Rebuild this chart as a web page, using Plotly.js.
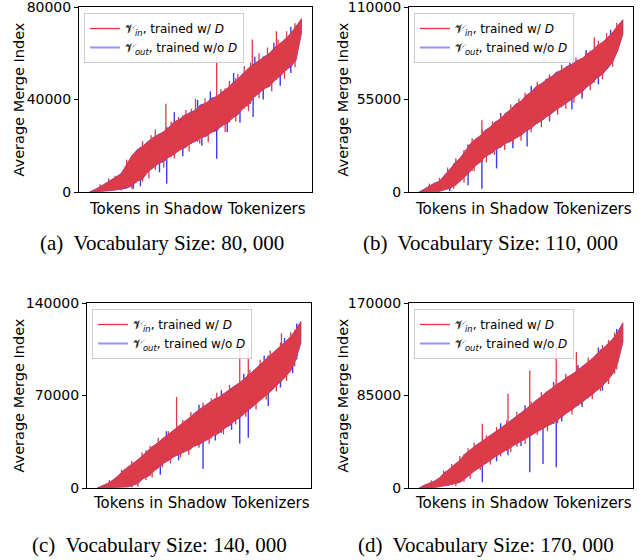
<!DOCTYPE html>
<html>
<head>
<meta charset="utf-8">
<script src="https://cdn.plot.ly/plotly-3.0.1.min.js"></script>
<style>html,body{margin:0;padding:0;background:#fff}#chart{width:644px;height:560px}</style>
</head>
<body>
<div id="chart"></div>
<script>
// ---------- DATA ----------
const captions = ["(a)  Vocabulary Size: 80, 000", "(b)  Vocabulary Size: 110, 000",
                  "(c)  Vocabulary Size: 140, 000", "(d)  Vocabulary Size: 170, 000"];
const yMax = [80000, 110000, 140000, 170000];
const yTicks = [[0, 40000, 80000], [0, 55000, 110000], [0, 70000, 140000], [0, 85000, 170000]];
const xTitle = "Tokens in Shadow Tokenizers";
const yTitle = "Average Merge Index";
const inName = "𝒱<sub><i>in</i></sub>, trained w/ <i>D</i>";
const outName = "𝒱<sub><i>out</i></sub>, trained w/o <i>D</i>";

// (a) 80,000 : envelopes of the two noisy series
const a_inHi  = [0,1000,2200,3800,5000,6600,7800,12000,15800,18000,19800,21500,23600,24500,26200,27800,30500,31200,33400,34000,35600,37400,38600,40200,41500,42800,44900,46800,49200,51000,53600,55000,57000,58200,60200,62300,64400,66000,68700,71500,75000];
const a_inLo  = [0,150,300,500,700,1000,1400,2000,2900,4500,6000,8500,10800,12000,13500,15000,16500,18200,19400,20800,22200,23300,24300,25600,26800,28500,30000,31800,33800,36000,38000,40800,43000,44500,46000,48500,50300,52500,54500,57000,69000];
const a_outHi = [0,1000,2400,3600,5200,6400,8200,11800,15500,18400,19500,21800,23300,25000,26000,28200,30200,31600,33100,34500,35300,37800,38300,40600,41200,43300,44600,47200,48900,51400,53300,55400,56700,58600,59900,62700,64100,66400,68400,71800,74700];
const a_outLo = [0,100,200,400,600,800,1200,1600,2600,4800,5600,8800,10400,12300,13100,15400,16200,18600,19000,21200,21800,23700,24000,26000,26400,28900,29700,32200,33400,36400,37600,41200,42600,44900,45600,48900,49900,52900,54100,57400,68600];
// single-token excursions: position and tip value
const a_inUpX  = [0.36,0.60,0.768,0.882,0.50,0.12,0.25,0.31,0.42,0.455,0.545,0.66,0.70,0.73,0.80,0.84,0.93,0.97,0.05,0.09,0.175,0.29,0.385,0.48,0.62,0.76,0.89];
const a_inUpY  = [38200,58400,65900,69500,40300,7000,22000,27000,32500,35500,40500,48000,51000,54500,60000,62500,69500,73000,3300,6000,14000,24500,30500,36000,44500,56000,66000];
const a_inDnX  = [0.20,0.28,0.35,0.47,0.56,0.64,0.75,0.86,0.92,0.15,0.25,0.31,0.40,0.52,0.69,0.80,0.97];
const a_inDnY  = [1200,6000,10500,17500,21500,26000,35000,43500,49000,600,4500,9500,14500,21000,30500,40500,54000];
const a_outUpX = [0.40,0.51,0.57,0.68,0.78,0.87,0.95];
const a_outUpY = [34500,39800,43500,51500,58500,64500,71500];
const a_outDnX = [0.364,0.60,0.772,0.207,0.53,0.71,0.24,0.33,0.44,0.65,0.82,0.90,0.95];
const a_outDnY = [3600,14400,32400,1400,20000,30000,2500,8500,15500,26000,40000,46000,51500];

// (b) 110,000
const b_inHi  = [0,1500,3500,5000,6500,9800,13500,17000,20200,23500,28500,31000,33500,36500,38800,41500,43500,46500,49300,52000,54000,57200,59500,62500,64500,66500,68800,71000,72600,74300,76000,77800,79500,81800,84200,86800,89000,91500,95000,98500,102500];
const b_inLo  = [0,100,250,350,500,1200,2300,3800,6500,9000,12500,15500,18000,21000,23000,25000,27000,28800,30500,32000,34000,36000,38200,40500,42500,44500,47000,49000,51200,53000,55500,57500,59800,62500,65000,68000,70300,73500,77500,84000,94000];
const b_outHi = [0,1700,3300,5300,6300,10200,13300,17400,20000,23900,28300,31400,33300,36900,38600,41900,43300,46900,49100,52400,53800,57600,59300,62900,64300,66900,68600,71400,72400,74700,75800,78200,79300,82200,84000,87200,88800,91900,94800,98900,102300];
const b_outLo = [0,50,150,400,400,1400,2100,4000,6200,9300,12100,15800,17600,21300,22600,25300,26600,29100,30100,32300,33600,36300,37800,40800,42100,44800,46600,49300,50800,53300,55100,57800,59400,62800,64600,68300,69900,73800,77100,84300,93600];
const b_inUpX  = [0.308,0.62,0.86,0.10,0.18,0.26,0.36,0.45,0.52,0.58,0.70,0.77,0.92,0.97,0.05,0.14,0.22,0.31,0.40,0.49,0.64,0.82,0.88];
const b_inUpY  = [42600,66000,92000,8500,20000,32000,42000,52000,59000,65500,75500,80000,94500,100500,5000,14500,25000,37000,45500,55500,70000,83500,90000];
const b_inDnX  = [0.22,0.33,0.42,0.50,0.60,0.68,0.76,0.84,0.90,0.17,0.27,0.37,0.46,0.55,0.64,0.72,0.80,0.95];
const b_inDnY  = [5500,17500,25000,30500,38500,46000,53000,60500,67000,2000,12500,22000,28500,35500,43000,49500,57000,74500];
const b_outUpX = [0.624,0.40,0.55,0.74,0.82,0.94];
const b_outUpY = [67400,47000,63000,78500,84500,96500];
const b_outDnX = [0.308,0.24,0.38,0.53,0.75,0.46,0.64,0.80,0.88,0.15];
const b_outDnY = [2000,4000,14000,27000,49000,26000,42000,55500,64000,500];

// (c) 140,000
const c_inHi  = [0,1500,3500,5500,9000,12500,15800,18500,21500,24500,28500,31500,34500,37500,40500,43500,46800,49500,52500,56000,59200,62000,64500,67000,69000,71500,74500,77000,79800,83000,86500,89500,93500,97000,100500,103500,107000,110500,114500,119500,126000];
const c_inLo  = [0,100,200,300,500,700,900,2000,3500,7000,9000,12500,15500,18500,21000,23500,25500,27000,29000,31500,33000,35000,37500,40000,42000,45000,47500,50500,53500,56500,60000,63000,66500,69500,73000,76500,80500,84000,89000,97000,110000];
const c_outHi = [0,1700,3300,5800,8800,12800,15600,18800,21300,24800,28300,31800,34300,37800,40300,43800,46600,49800,52300,56300,59000,62300,64300,67300,68800,71800,74300,77300,79600,83300,86300,89800,93300,97300,100300,103800,106800,110800,114300,119800,125800];
const c_outLo = [0,50,150,350,450,750,850,2100,3300,7300,8700,12800,15200,18800,20700,23800,25200,27300,28700,31800,32700,35300,37200,40300,41700,45300,47200,50800,53200,56800,59700,63300,66200,69800,72700,76800,80200,84300,88700,97300,109600];
const c_inUpX  = [0.39,0.70,0.742,0.905,0.587,0.12,0.22,0.30,0.46,0.52,0.65,0.80,0.85,0.95,0.06,0.17,0.26,0.35,0.42,0.56,0.75,0.90];
const c_inUpY  = [68900,108000,105500,117000,72000,14000,27000,38000,57500,64500,78000,97000,104000,118000,6000,20500,32000,43000,51500,68000,89500,110000];
const c_inDnX  = [0.20,0.27,0.36,0.45,0.55,0.62,0.78,0.88,0.93,0.24,0.32,0.41,0.50,0.68,0.73,0.83,0.97];
const c_inDnY  = [1000,8000,18500,25000,33500,40500,59500,73000,81000,6000,15500,23000,30500,48000,54000,67000,92000];
const c_outUpX = [0.34,0.50,0.61,0.72,0.82,0.92,0.98];
const c_outUpY = [43000,63000,74000,86500,100000,113500,124500];
const c_outDnX = [0.52,0.70,0.742,0.31,0.17,0.84,0.40,0.58,0.66,0.90,0.96];
const c_outDnY = [14600,33600,38000,10000,500,62000,21000,36000,44000,76000,87000];

// (d) 170,000
const d_inHi  = [0,2500,4500,6200,9500,14000,17500,21500,25500,31000,35000,38500,42000,45000,48500,51500,55000,58000,62000,65500,69000,72500,76500,80500,84000,88000,91500,95000,98000,101500,104500,107500,111500,115000,119000,123500,127500,132000,137000,143000,152000];
const d_inLo  = [0,100,250,400,1200,2000,2800,4000,5200,8500,12500,16000,19500,22500,25500,29000,32000,34500,37500,40500,43000,45500,48500,51500,54000,56500,59000,62000,65500,69000,72000,75500,79000,82500,86000,90000,94000,98500,105000,115000,134000];
const d_outHi = [0,2700,4300,6400,9300,14300,17300,21800,25300,31300,34800,38800,41800,45300,48300,51800,54800,58300,61800,65800,68800,72800,76300,80800,83800,88300,91300,95300,97800,101800,104300,107800,111300,115300,118800,123800,127300,132300,136800,143300,151700];
const d_outLo = [0,50,200,450,1100,2200,2700,4200,5000,8800,12200,16300,19200,22800,25200,29300,31700,34800,37200,40800,42700,45800,48200,51800,53700,56800,58700,62300,65200,69300,71700,75800,78700,82800,85700,90300,93700,98800,104700,115300,133600];
const d_inUpX  = [0.543,0.673,0.436,0.772,0.31,0.12,0.20,0.27,0.38,0.48,0.60,0.72,0.83,0.90,0.96,0.06,0.16,0.24,0.33,0.43,0.55,0.66,0.78,0.93];
const d_inUpY  = [108000,129500,86500,125000,59000,16000,29500,41500,56000,70000,88000,105000,120000,131500,143000,7000,22000,36500,48500,62000,79500,96000,111500,136000];
const d_inDnX  = [0.18,0.25,0.35,0.45,0.52,0.63,0.75,0.85,0.93,0.22,0.30,0.40,0.48,0.58,0.68,0.80,0.89,0.97];
const d_inDnY  = [1500,8500,21500,33000,40500,52500,67500,81500,95500,5500,16500,29000,38000,49000,59500,76000,89000,109000];
const d_outUpX = [0.40,0.52,0.66,0.78,0.88,0.97];
const d_outUpY = [59500,76000,97500,113000,129000,146000];
const d_outDnX = [0.543,0.608,0.673,0.31,0.436,0.38,0.50,0.70,0.80,0.90];
const d_outDnY = [14400,22100,19000,5200,30000,24500,38500,61000,74500,89500];

// token rank positions (x index of the sorted tokens)
const nPts = a_inHi.length;
const tokenRank = Array.from({length: nPts}, (_, i) => i / (nPts - 1));

// ---------- STYLE / LAYOUT ----------
const W = 644, H = 560;
const RED = '#dc3b4a', BLUE = '#3c3cf0';
const LEG_RED = '#e8323c', LEG_BLUE = '#9494f8';
const FONT = 'DejaVu Sans, sans-serif';
const SERIF = 'Liberation Serif, Times New Roman, serif';
// plot boxes in pixels [left, right, top, bottom]
const boxes = [[79, 312, 7, 192], [409, 633, 7, 192], [87, 311, 303, 488], [409, 633, 303, 488]];
const capY = [243, 243, 545, 545];
const capX = [162, 490, 159, 486];
const xTitleY = [209, 209, 503, 503];
const yTitleX = [18, 342, 18, 342];

const panels = [
  {inHi: a_inHi, inLo: a_inLo, outHi: a_outHi, outLo: a_outLo, inUpX: a_inUpX, inUpY: a_inUpY, inDnX: a_inDnX, inDnY: a_inDnY, outUpX: a_outUpX, outUpY: a_outUpY, outDnX: a_outDnX, outDnY: a_outDnY},
  {inHi: b_inHi, inLo: b_inLo, outHi: b_outHi, outLo: b_outLo, inUpX: b_inUpX, inUpY: b_inUpY, inDnX: b_inDnX, inDnY: b_inDnY, outUpX: b_outUpX, outUpY: b_outUpY, outDnX: b_outDnX, outDnY: b_outDnY},
  {inHi: c_inHi, inLo: c_inLo, outHi: c_outHi, outLo: c_outLo, inUpX: c_inUpX, inUpY: c_inUpY, inDnX: c_inDnX, inDnY: c_inDnY, outUpX: c_outUpX, outUpY: c_outUpY, outDnX: c_outDnX, outDnY: c_outDnY},
  {inHi: d_inHi, inLo: d_inLo, outHi: d_outHi, outLo: d_outLo, inUpX: d_inUpX, inUpY: d_inUpY, inDnX: d_inDnX, inDnY: d_inDnY, outUpX: d_outUpX, outUpY: d_outUpY, outDnX: d_outDnX, outDnY: d_outDnY}
];

function band(hi, lo) {
  return {x: tokenRank.concat(tokenRank.slice().reverse()), y: hi.concat(lo.slice().reverse())};
}
// vertical strokes from inside the band (value at nearest rank) to the tip value
function strokes(xs, tips, baseArr, x, y) {
  xs.forEach((v, k) => {
    const idx = Math.round(v * (nPts - 1));
    x.push(v, v, null); y.push(baseArr[idx], tips[k], null);
  });
}

const data = [];
const layout = {
  width: W, height: H, margin: {l: 0, r: 0, t: 0, b: 0},
  paper_bgcolor: '#fff', plot_bgcolor: '#fff',
  font: {family: FONT, color: '#000', size: 14},
  showlegend: true, annotations: []
};

panels.forEach((p, k) => {
  const n = k + 1;
  const sfx = n === 1 ? '' : String(n);
  const xa = 'x' + sfx, ya = 'y' + sfx, lg = 'legend' + sfx;
  const [L, R, T, B] = boxes[k];

  const ob = band(p.outHi, p.outLo);
  data.push({type: 'scatter', mode: 'lines', x: ob.x, y: ob.y, xaxis: xa, yaxis: ya, fill: 'toself',
             fillcolor: BLUE, line: {color: BLUE, width: 0.6}, showlegend: false, hoverinfo: 'skip'});
  const osx = [], osy = [];
  strokes(p.outUpX, p.outUpY, p.outLo, osx, osy);
  strokes(p.outDnX, p.outDnY, p.outHi, osx, osy);
  data.push({type: 'scatter', mode: 'lines', x: osx, y: osy, xaxis: xa, yaxis: ya,
             line: {color: BLUE, width: 1.4}, showlegend: false, hoverinfo: 'skip'});

  const ib = band(p.inHi, p.inLo);
  data.push({type: 'scatter', mode: 'lines', x: ib.x, y: ib.y, xaxis: xa, yaxis: ya, fill: 'toself',
             fillcolor: RED, line: {color: RED, width: 0.6}, showlegend: false, hoverinfo: 'skip'});
  const isx = [], isy = [];
  strokes(p.inUpX, p.inUpY, p.inLo, isx, isy);
  strokes(p.inDnX, p.inDnY, p.inHi, isx, isy);
  data.push({type: 'scatter', mode: 'lines', x: isx, y: isy, xaxis: xa, yaxis: ya,
             line: {color: RED, width: 1.3}, showlegend: false, hoverinfo: 'skip'});

  // legend entries
  data.push({type: 'scatter', mode: 'lines', x: [null], y: [null], xaxis: xa, yaxis: ya, name: inName,
             line: {color: LEG_RED, width: 1.3}, legend: lg});
  data.push({type: 'scatter', mode: 'lines', x: [null], y: [null], xaxis: xa, yaxis: ya, name: outName,
             line: {color: LEG_BLUE, width: 2}, legend: lg});

  layout['xaxis' + sfx] = {
    domain: [L / W, R / W], anchor: ya, range: [-0.05, 1.05], showticklabels: false, ticks: '',
    showgrid: false, zeroline: false, showline: true, mirror: true, linecolor: '#000', linewidth: 1, fixedrange: true
  };
  layout['yaxis' + sfx] = {
    domain: [1 - B / H, 1 - T / H], anchor: xa, range: [0, yMax[k]], tickmode: 'array',
    tickvals: yTicks[k], ticktext: yTicks[k].map(String), ticks: 'outside', ticklen: 4, tickwidth: 1,
    tickcolor: '#000', tickfont: {size: 14, color: '#000'}, ticklabeloverflow: 'allow',
    showgrid: false, zeroline: false, showline: true, mirror: true, linecolor: '#000', linewidth: 1, fixedrange: true
  };
  layout[lg] = {
    x: (L + 5) / W, y: 1 - (T + 6) / H, xanchor: 'left', yanchor: 'top',
    bgcolor: 'rgba(255,255,255,0.85)', bordercolor: '#cccccc', borderwidth: 1,
    font: {size: 12, family: FONT, color: '#000'}, tracegroupgap: 0, itemwidth: 30
  };
  layout.annotations.push({xref: 'paper', yref: 'paper', x: ((L + R) / 2 + 2) / W, y: 1 - xTitleY[k] / H,
    text: xTitle, showarrow: false, xanchor: 'center', yanchor: 'middle', font: {size: 15, family: FONT}});
  layout.annotations.push({xref: 'paper', yref: 'paper', x: yTitleX[k] / W, y: 1 - (T + B) / 2 / H,
    text: yTitle, showarrow: false, textangle: -90, xanchor: 'center', yanchor: 'middle', font: {size: 14.5, family: FONT}});
  layout.annotations.push({xref: 'paper', yref: 'paper', x: capX[k] / W, y: 1 - capY[k] / H,
    text: captions[k], showarrow: false, xanchor: 'center', yanchor: 'middle', font: {size: 21, family: SERIF}});
});

Plotly.newPlot('chart', data, layout, {displayModeBar: false, staticPlot: true});
</script>
</body>
</html>
